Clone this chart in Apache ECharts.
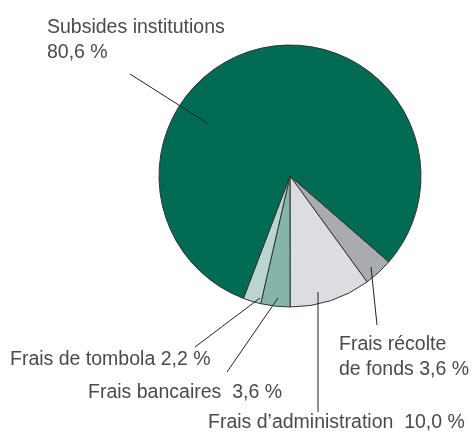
<!DOCTYPE html>
<html lang="fr">

<head>
    <meta charset="UTF-8">
    <title>Répartition</title>
    <script src="https://cdn.jsdelivr.net/npm/echarts@6/dist/echarts.min.js"></script>
    <style>
        html, body { margin: 0; padding: 0; background: #fff; }
        #main { width: 474px; height: 439px; }
    </style>
</head>

<body>
    <div id="main"></div>
    <script>
        // données
        var categories = ['Frais récolte\nde fonds', 'Frais d’administration', 'Frais bancaires', 'Frais de tombola', 'Subsides institutions'];
        var values = [3.6, 10.0, 3.6, 2.2, 80.6];
        var colors = ['#a9abae', '#dcdde0', '#85b5a8', '#b8d5cf', '#006b52'];

        // position des étiquettes et des traits de rappel
        var labelPos = [
            { x: 339, y: 332, sep: ' ', line: [[371, 267], [377, 325]] },
            { x: 208, y: 410, sep: '  ', line: [[318, 292], [318, 412]] },
            { x: 88, y: 380, sep: '  ', line: [[278, 298], [227, 372]] },
            { x: 10, y: 347, sep: ' ', line: [[260, 298], [195, 347]] },
            { x: 47, y: 15, sep: '\n', line: [[207, 123], [130, 74]] }
        ];

        function fmt(v) {
            return v.toFixed(1).replace('.', ',') + ' %';
        }

        var pieData = [];
        for (var i = 0; i < values.length; i++) {
            pieData.push({
                name: categories[i],
                value: values[i],
                itemStyle: { color: colors[i] }
            });
        }

        // traits de rappel au-dessus des secteurs
        var lines = [];
        for (var j = 0; j < labelPos.length; j++) {
            lines.push({
                type: 'polyline',
                z: 100,
                silent: true,
                shape: { points: labelPos[j].line },
                style: { stroke: '#222', lineWidth: 1, fill: null }
            });
        }

        var myChart = echarts.init(document.getElementById('main'));
        var option = {
            animation: false,
            graphic: lines,
            series: [{
                type: 'pie',
                center: [290, 176],
                radius: 131,
                startAngle: -41,
                clockwise: true,
                data: pieData,
                itemStyle: {
                    borderColor: '#333',
                    borderWidth: 1
                },
                label: {
                    show: true,
                    position: 'outside',
                    overflow: 'none',
                    formatter: function(p) {
                        return p.name + labelPos[p.dataIndex].sep + fmt(p.value);
                    },
                    fontFamily: 'Liberation Sans',
                    fontSize: 19.5,
                    lineHeight: 25,
                    color: '#4a4a4a'
                },
                labelLine: {
                    show: false
                },
                labelLayout: function(p) {
                    var pos = labelPos[p.dataIndex];
                    return {
                        x: pos.x,
                        y: pos.y,
                        align: 'left',
                        verticalAlign: 'top'
                    };
                },
                emphasis: { disabled: true }
            }]
        };
        myChart.setOption(option);
    </script>
</body>

</html>
